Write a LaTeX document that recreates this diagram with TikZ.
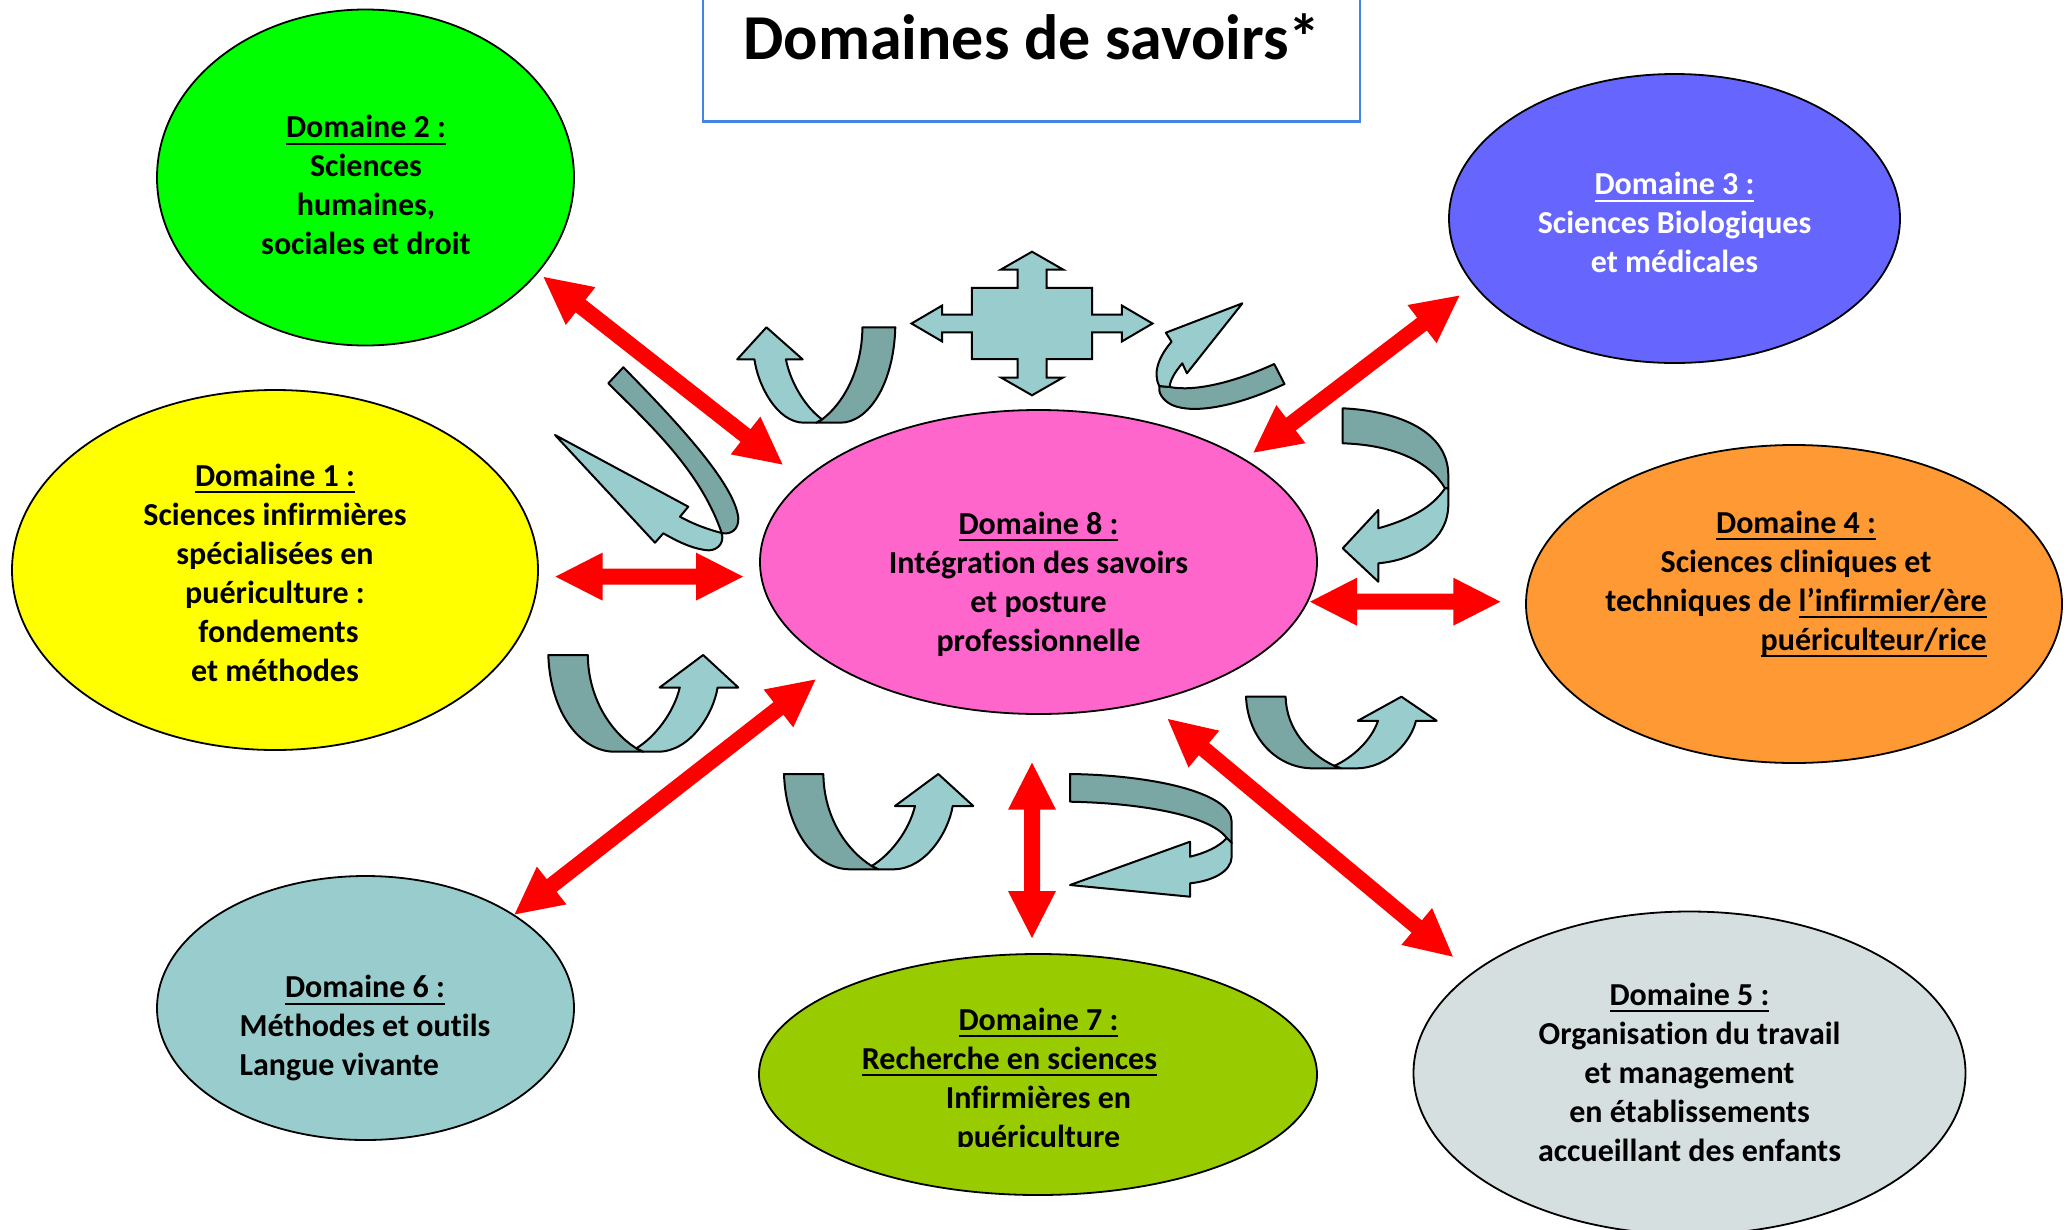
\documentclass[tikz,border=0pt]{standalone}
\usepackage{fontspec}
\setmainfont{Carlito}[Ligatures=NoCommon]
\usetikzlibrary{shapes.geometric,calc}
\definecolor{cDa}{RGB}{255,255,0}
\definecolor{cDb}{RGB}{0,255,0}
\definecolor{cDc}{RGB}{102,102,255}
\definecolor{cDd}{RGB}{255,153,51}
\definecolor{cDe}{RGB}{214,223,224}
\definecolor{cDf}{RGB}{153,204,204}
\definecolor{cDg}{RGB}{153,204,0}
\definecolor{cDh}{RGB}{255,102,204}
\definecolor{teall}{RGB}{153,204,204}
\definecolor{teald}{RGB}{122,166,164}
\definecolor{titleblue}{RGB}{66,133,230}
\definecolor{arrred}{RGB}{255,0,0}
\newcommand\ulx[1]{\leavevmode\setbox0\hbox{#1}\rlap{\rule[-7pt]{\wd0}{2pt}}\box0}
% double red arrow between two named coordinates
\newcommand\redarrow[2]{%
  \coordinate (#1h) at ($(#1)!47pt!(#2)$);
  \coordinate (#2h) at ($(#2)!47pt!(#1)$);
  \fill[arrred] (#1) -- ($(#1h)!24pt!-90:(#2)$) -- ($(#1h)!8pt!-90:(#2)$)
    -- ($(#2h)!8pt!90:(#1)$) -- ($(#2h)!24pt!90:(#1)$) -- (#2)
    -- ($(#2h)!24pt!-90:(#1)$) -- ($(#2h)!8pt!-90:(#1)$)
    -- ($(#1h)!8pt!90:(#2)$) -- ($(#1h)!24pt!90:(#2)$) -- cycle;}
% U-turn ribbon arrow: x-left, y-top, width (negative = mirrored), height
\newcommand\uturn[4]{%
  \begin{scope}[shift={(#1,#2)}, xscale=#3, yscale=#4]
    \filldraw[darkrib] (0,0) .. controls (0.01,0.6) and (0.17,1) .. (0.349,1)
      -- (0.50,1) -- (0.463,0.965) .. controls (0.33,0.8) and (0.21,0.45) .. (0.208,0) -- cycle;
    \filldraw[lightrib] (0.463,0.965) -- (0.50,1) -- (0.577,1)
      .. controls (0.75,1) and (0.87,0.6) .. (0.891,0.336) -- (1,0.336) -- (0.815,0)
      -- (0.586,0.336) -- (0.692,0.336) .. controls (0.66,0.6) and (0.56,0.85) .. (0.463,0.965) -- cycle;
  \end{scope}}
\begin{document}
\begin{tikzpicture}[x=1pt,y=-1pt,
  dom/.style={ellipse, draw=black, line width=1.8pt, inner sep=0pt},
  lbl/.style={font=\fontsize{32}{39}\selectfont\bfseries, inner sep=0pt},
  lightrib/.style={fill=teall, draw=black, line width=2pt, line join=round},
  darkrib/.style={fill=teald, draw=black, line width=2pt, line join=round}]
\clip (0,0) rectangle (2069,1229);
\fill[white] (0,0) rectangle (2069,1229);

% title
\node[draw=titleblue, line width=2.5pt, minimum width=657pt, minimum height=160pt,
      inner sep=0pt, anchor=south] (titlebox) at (1031.5,122.7) {};
\node[font=\fontsize{64}{77}\selectfont\bfseries, anchor=base, inner sep=0pt]
      (title) at (1032,59.3) {Domaines de savoirs*};

% ellipses
\node[dom, fill=cDb, minimum width=417pt, minimum height=336pt] (d2) at (365.5,177.5) {};
\node[dom, fill=cDa, minimum width=526pt, minimum height=360pt] (d1) at (275,570) {};
\node[dom, fill=cDh, minimum width=557pt, minimum height=304pt] (d8) at (1038.5,562) {};
\node[dom, fill=cDc, minimum width=451pt, minimum height=289pt] (d3) at (1674.5,218.5) {};
\node[dom, fill=cDd, minimum width=536pt, minimum height=318pt] (d4) at (1794,604) {};
\node[dom, fill=cDf, minimum width=417pt, minimum height=264pt] (d6) at (365.5,1008) {};
\node[dom, fill=cDg, minimum width=558pt, minimum height=241pt] (d7) at (1038,1074.5) {};
\node[dom, fill=cDe, minimum width=552pt, minimum height=323pt] (d5) at (1689.5,1073) {};

% red double arrows
\coordinate (ra1) at (543.6,277);   \coordinate (rb1) at (782.5,464.5);
\coordinate (ra2) at (555.5,576.6); \coordinate (rb2) at (743,576.6);
\coordinate (ra3) at (514.6,914.4); \coordinate (rb3) at (815.5,679.5);
\coordinate (ra4) at (1032,762.7);  \coordinate (rb4) at (1032,938);
\coordinate (ra5) at (1167.8,719);  \coordinate (rb5) at (1452.8,956.6);
\coordinate (ra6) at (1310,601.7);  \coordinate (rb6) at (1500.3,601.7);
\coordinate (ra7) at (1253.5,452.6); \coordinate (rb7) at (1459.4,295.6);
\redarrow{ra1}{rb1}
\redarrow{ra2}{rb2}
\redarrow{ra3}{rb3}
\redarrow{ra4}{rb4}
\redarrow{ra5}{rb5}
\redarrow{ra6}{rb6}
\redarrow{ra7}{rb7}

% U-turn arrows
\uturn{895.3}{327.3}{-158.1}{95.4}
\uturn{548.3}{655}{190}{96.7}
\uturn{784}{774}{189.3}{95.3}
\uturn{1246}{696.7}{190.7}{71.6}

% four-way arrow
\begin{scope}[shift={(1032,323.5)}]
\filldraw[lightrib, line join=miter] (0,-71.8) -- (31,-54) -- (14.5,-54) -- (14.5,-35.7) -- (60.1,-35.7)
 -- (60.1,-8.85) -- (89.8,-8.85) -- (89.8,-18) -- (120.5,0) -- (89.8,18) -- (89.8,8.85)
 -- (60.1,8.85) -- (60.1,35.7) -- (14.5,35.7) -- (14.5,54) -- (31,54) -- (0,71.8)
 -- (-31,54) -- (-14.5,54) -- (-14.5,35.7) -- (-60.1,35.7) -- (-60.1,8.85) -- (-89.8,8.85)
 -- (-89.8,18) -- (-120.5,0) -- (-89.8,-18) -- (-89.8,-8.85) -- (-60.1,-8.85) -- (-60.1,-35.7)
 -- (-14.5,-35.7) -- (-14.5,-54) -- (-31,-54) -- cycle;
\end{scope}

% right-side curl (E)
\filldraw[darkrib] (1342.7,408.3) .. controls (1400,411) and (1448,432) .. (1448.3,475)
  -- (1448.3,488.3) -- (1445,488.3) .. controls (1430,462) and (1395,445) .. (1342.7,443.3) -- cycle;
\filldraw[lightrib] (1445,488.3) -- (1448.3,488.3) -- (1448.3,505)
  .. controls (1448,540) and (1415,560) .. (1378.3,563.3) -- (1378.3,581.7) -- (1342.7,548.3)
  -- (1378.3,510) -- (1378.3,528.3) .. controls (1408,520) and (1432,508) .. (1445,488.3) -- cycle;

% left diagonal curl (F)
\filldraw[darkrib] (608.3,383.3) -- (623.3,367.3) .. controls (680,425) and (735,485) .. (738.3,518)
  .. controls (739,530) and (730,535) .. (721.7,533) .. controls (700,470) and (650,425) .. cycle;
\filldraw[lightrib] (721.7,533) .. controls (725,545) and (715,552) .. (705,550)
  .. controls (690,548) and (675,540) .. (663.3,533.3) -- (655,542.7) -- (555,435)
  -- (688.3,506.7) -- (680,516.7) .. controls (695,525) and (710,530) .. (721.7,533) -- cycle;

% top-right curl (G)
\filldraw[darkrib] (1274.2,364) -- (1284.5,384) .. controls (1240,405) and (1195,415) .. (1172,405)
  .. controls (1162,400) and (1158,392) .. (1159.3,386) -- (1169.7,387)
  .. controls (1195,392) and (1235,382) .. (1274.2,364) -- cycle;
\filldraw[lightrib] (1159.3,386) .. controls (1152,372) and (1160,355) .. (1171.6,341.7)
  -- (1165.8,332.7) -- (1242.4,303.3) -- (1186.9,373.3) -- (1182.3,363.3)
  .. controls (1175,372) and (1170,380) .. (1169.7,387) -- cycle;

% bottom-right curl (H)
\filldraw[darkrib] (1070,774) .. controls (1150,775) and (1231.7,792) .. (1231.7,822)
  -- (1231.7,843) -- (1226.7,838) .. controls (1210,815) and (1140,803) .. (1070,801.7) -- cycle;
\filldraw[lightrib] (1226.7,838) -- (1231.7,843) -- (1231.7,857)
  .. controls (1231,872) and (1212,881) .. (1190,883.3) -- (1190,896.7) -- (1070,885)
  -- (1190,841.7) -- (1190,856.7) .. controls (1205,853) and (1219,847) .. (1226.7,838) -- cycle;

% texts
\node[lbl] (t2) at (366,188.5) {\begin{tabular}{@{}c@{}}\ulx{Domaine 2 :}\\ Sciences\\ humaines,\\ sociales et droit\end{tabular}};
\node[lbl] (t1) at (275,576) {\begin{tabular}{@{}c@{}}\ulx{Domaine 1 :}\\ Sciences infirmières\\ spécialisées en\\ puériculture :\\ \hspace*{7pt}fondements\\ et méthodes\end{tabular}};
\node[lbl] (t8) at (1038.5,585) {\begin{tabular}{@{}c@{}}\ulx{Domaine 8 :}\\ Intégration des savoirs\\ et posture\\ professionnelle\end{tabular}};
\node[lbl, text=white] (t3) at (1674.5,226) {\begin{tabular}{@{}c@{}}\ulx{Domaine 3 :}\\ Sciences Biologiques\\ et médicales\end{tabular}};
\node[lbl] (t4) at (1796,584) {\begin{tabular}{@{}c@{}}\ulx{Domaine 4 :}\\ Sciences cliniques et\\ techniques de \ulx{l’infirmier/ère}\\ \multicolumn{1}{@{}r@{}}{\ulx{puériculteur/rice}}\end{tabular}};
\node[lbl] (t6) at (365,1029) {\begin{tabular}{@{}l@{}}\multicolumn{1}{@{}c@{}}{\ulx{Domaine 6 :}}\\ Méthodes et outils\\ Langue vivante\end{tabular}};
\begin{scope}
\clip (700,990) rectangle (1380,1146);
\node[lbl] (t7) at (1038.5,1081) {\begin{tabular}{@{}c@{}}\ulx{Domaine 7 :}\\ \ulx{Recherche en sciences}\hspace*{58pt}\\ Infirmières en\\ puériculture\end{tabular}};
\end{scope}
\node[lbl] (t5) at (1689.5,1075.5) {\begin{tabular}{@{}c@{}}\ulx{Domaine 5 :}\\ Organisation du travail\\ et management\\ en établissements\\ accueillant des enfants\end{tabular}};
\end{tikzpicture}
\end{document}
